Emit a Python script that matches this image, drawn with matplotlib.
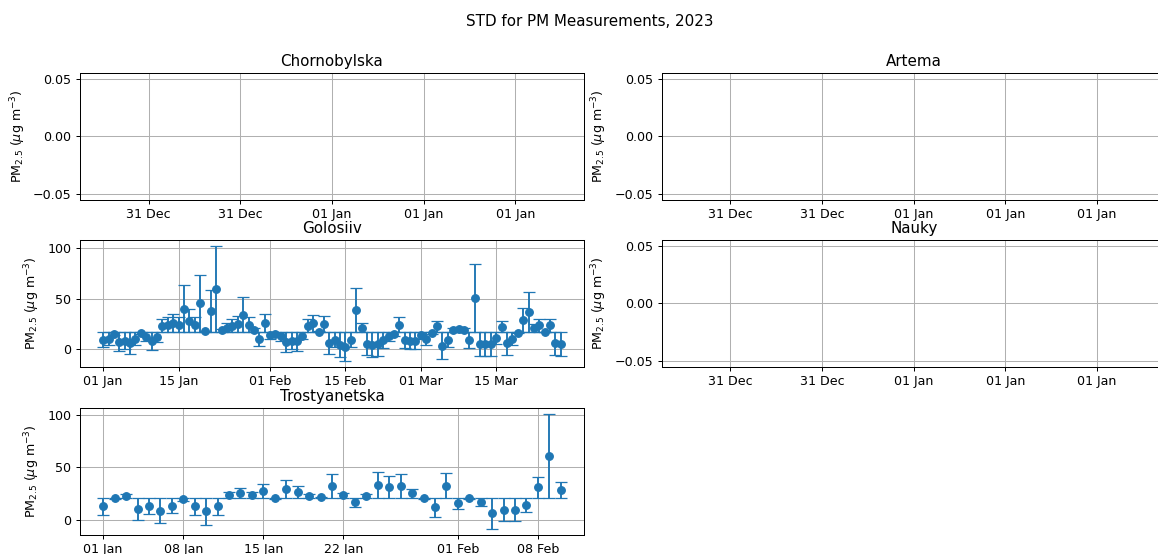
import matplotlib
matplotlib.use("Agg")
import matplotlib.pyplot as plt
import matplotlib.dates as mdates
import pandas as pd
from datetime import datetime, timedelta

# ---------------- data ----------------
stations = ["Chornobylska", "Artema", "Golosiiv", "Nauky", "Trostyanetska"]

golosiiv_start = "2023-01-01"
golosiiv_mean = [9, 10, 15, 7, 8, 5.6, 10, 15.5, 12, 7.8,
                 11.5, 23, 24, 25.5, 24, 40, 28, 24, 45.3, 17.3,
                 37.5, 59.5, 18.3, 21, 23, 24.5, 34, 24, 18.5, 9.8,
                 25.5, 13.3, 14.5, 12.3, 6.7, 8, 7.3, 13, 23, 25.3,
                 17, 24.7, 5.7, 9, 4, 2.3, 9, 38.7, 21, 5,
                 4, 4.7, 8.7, 12.3, 14.7, 24, 8.7, 8, 8, 13.3,
                 10, 15.7, 22.3, 3.3, 9, 18.7, 19.3, 18.7, 8.7, 50.7,
                 4.7, 4.7, 4.7, 10.7, 22, 5.3, 10, 16, 28.7, 36.7,
                 20.7, 23.3, 16.7, 23.3, 5.3, 4.7]
golosiiv_std = [7.6, 6.6, 1.6, 9.6, 8.6, 11.0, 6.6, 1.1, 4.6, 8.8,
                5.1, 6.4, 7.4, 8.9, 7.4, 23.4, 11.4, 7.4, 28.7, 0.7,
                20.9, 42.9, 1.7, 4.4, 6.4, 7.9, 17.4, 7.4, 1.9, 6.8,
                8.9, 3.3, 2.1, 4.3, 9.9, 8.6, 9.3, 3.6, 6.4, 8.7,
                0.4, 8.1, 10.9, 7.6, 12.6, 14.3, 7.6, 22.1, 4.4, 11.6,
                12.6, 11.9, 7.9, 4.3, 1.9, 7.4, 7.9, 8.6, 8.6, 3.3,
                6.6, 0.9, 5.7, 13.3, 7.6, 2.1, 2.7, 2.1, 7.9, 34.1,
                11.9, 11.9, 11.9, 5.9, 5.4, 11.3, 6.6, 0.6, 12.1, 20.1,
                4.1, 6.7, 0.1, 6.7, 11.3, 11.9]

trost_start = "2023-01-01"
trost_mean = [12.7, 20.6, 22.9, 10.5, 13.2, 8.7, 13.5, 19.4, 12.9, 8.1,
              12.6, 23.9, 25.5, 23.9, 27.4, 20.3, 29.3, 26.4, 22.9, 21.3,
              32.2, 23.2, 16.5, 22.9, 33.2, 31.3, 32.3, 25.2, 20.6, 11.9,
              32.6, 15.8, 20.6, 17.1, 6.1, 9.7, 9.7, 14.2, 31.0, 61.0,
              28.4]
trost_std = [8.3, 0.4, 1.9, 10.5, 7.8, 12.3, 7.5, 1.6, 8.1, 12.9,
             8.4, 2.9, 4.5, 2.9, 6.4, 0.7, 8.3, 5.4, 1.9, 0.3,
             11.2, 2.2, 4.5, 1.9, 12.2, 10.3, 11.3, 4.2, 0.4, 9.1,
             11.6, 5.2, 0.4, 3.9, 14.9, 11.3, 11.3, 6.8, 10.0, 40.0,
             7.4]

series = {
    "Golosiiv": (golosiiv_start, golosiiv_mean, golosiiv_std),
    "Trostyanetska": (trost_start, trost_mean, trost_std),
}

# ---------------- style (reference is a ~0.91 downscale of defaults) ----------------
s = 0.91
plt.rcParams.update({
    "font.size": 10 * s,
    "axes.titlesize": 12 * s,
    "axes.linewidth": 0.8 * s,
    "grid.linewidth": 0.8 * s,
    "xtick.major.size": 3.5 * s,
    "ytick.major.size": 3.5 * s,
    "xtick.major.width": 0.8 * s,
    "ytick.major.width": 0.8 * s,
    "xtick.major.pad": 3.5 * s,
    "ytick.major.pad": 3.5 * s,
    "axes.titlepad": 6 * s,
    "axes.labelpad": 4 * s,
    "lines.linewidth": 1.5 * s,
    "lines.markersize": 6 * s,
    "lines.markeredgewidth": 1.0 * s,
})

# ---------------- figure ----------------
W, H = 1158, 554
fig = plt.figure(figsize=(W / 100, H / 100), dpi=100)

col_left = [80.3, 662.0]
ax_w = 503.4
row_top = [73.3, 240.3, 408.3]
ax_h = 126.3

ylabel = r"PM$_{2.5}$ ($\mu$g m$^{-3}$)"

for i, name in enumerate(stations):
    r, c = divmod(i, 2)
    left = col_left[c] / W
    bottom = 1 - (row_top[r] + ax_h) / H
    ax = fig.add_axes([left, bottom, ax_w / W, ax_h / H])
    if name in series:
        start, mean, std = series[name]
        dates = pd.date_range(start, periods=len(mean), freq="D")
        ax.errorbar(dates, mean, yerr=std, fmt="o", capsize=5 * s, color="C0")
    else:
        t0 = datetime(1970, 1, 1)
        ax.set_xlim(t0 - timedelta(minutes=82.4), t0 + timedelta(minutes=82.4))
        ax.set_ylim(-0.055, 0.055)
    ax.xaxis.set_major_locator(mdates.AutoDateLocator())
    ax.xaxis.set_major_formatter(mdates.DateFormatter("%d %b"))
    ax.set_title(name)
    ax.set_ylabel(ylabel)
    ax.grid(True)

fig.text(590 / W, 1 - 22 / H, "STD for PM Measurements, 2023",
         ha="center", va="center", fontsize=12 * s)

fig.savefig("out.png", dpi=100)
